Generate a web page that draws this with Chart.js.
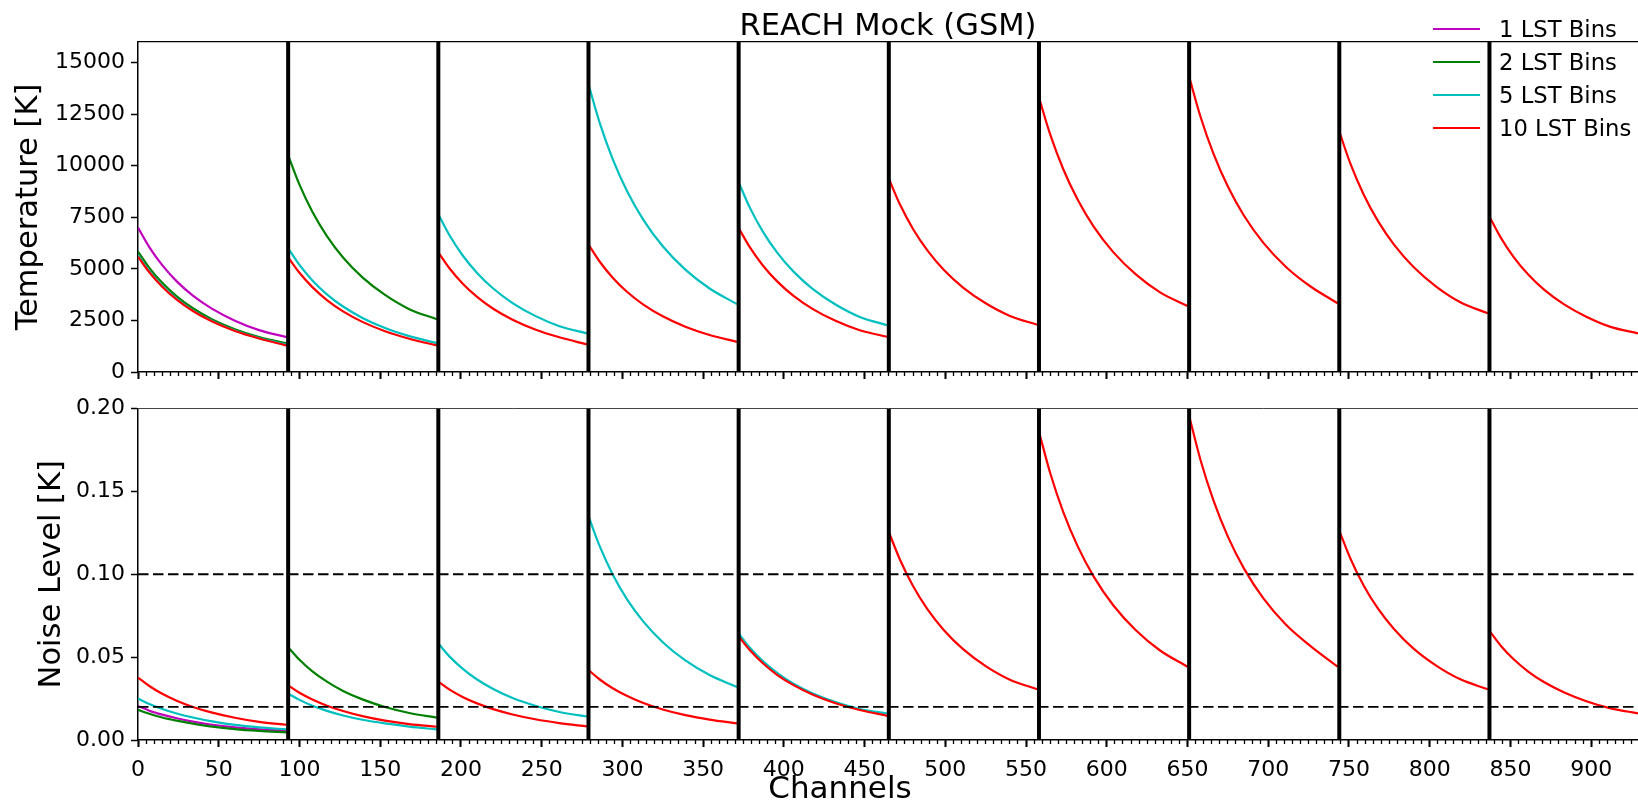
<!DOCTYPE html>
<html>
<head>
<meta charset="utf-8">
<script src="https://cdn.jsdelivr.net/npm/chart.js@4.4.0/dist/chart.umd.min.js"></script>
<style>
html, body { margin: 0; padding: 0; background: #fff; overflow: hidden; width: 1638px; height: 809px; }
#wrap { position: relative; width: 1638px; height: 809px; }
canvas { position: absolute; left: 0; }
#cTop { top: 0; }
#cBot { top: 380px; }
.leg { position: absolute; left: 1433px; height: 30px; width: 205px; font-family: 'DejaVu Sans', sans-serif; font-size: 22.7px; color: #000; white-space: nowrap; }
.leg i { position: absolute; left: 0; top: 14px; width: 47px; height: 0; border-top: 2.2px solid #000; }
.leg span { position: absolute; left: 66px; top: 0; line-height: 30px; }
#xlabel { position: absolute; left: 740px; width: 200px; top: 768.5px; height: 36px; line-height: 36px; text-align: center;
          font-family: 'DejaVu Sans', sans-serif; font-size: 31px; color: #000; white-space: nowrap; }
</style>
</head>
<body>
<div id="wrap">
  <canvas id="cTop" width="1638" height="392"></canvas>
  <canvas id="cBot" width="1638" height="429"></canvas>
  <div id="legend"></div>
  <div id="xlabel"></div>
</div>
<script>
// ---------------- data ----------------
const seriesLabels = ['1 LST Bins', '2 LST Bins', '5 LST Bins', '10 LST Bins'];
const titleText = 'REACH Mock (GSM)';
const xLabelText = 'Channels';
const yLabelTop = 'Temperature [K]';
const yLabelBottom = 'Noise Level [K]';

// channel positions of the sampled points (9 per 93-channel segment)
const channels = [
  0, 7, 15, 24, 34, 46, 60, 75, 92,
  93, 100, 108, 117, 127, 139, 153, 168, 185,
  186, 193, 201, 210, 220, 232, 246, 261, 278,
  279, 286, 294, 303, 313, 325, 339, 354, 371,
  372, 379, 387, 396, 406, 418, 432, 447, 464,
  465, 472, 480, 489, 499, 511, 525, 540, 557,
  558, 565, 573, 582, 592, 604, 618, 633, 650,
  651, 658, 666, 675, 685, 697, 711, 726, 743,
  744, 751, 759, 768, 778, 790, 804, 819, 836,
  837, 844, 852, 861, 871, 883, 897, 912, 929
];
const pointsPerSegment = 9;
const segmentBoundaries = [93, 186, 279, 372, 465, 558, 651, 744, 837];
const noiseThresholds = [0.1, 0.02];

// Temperature [K]
const tempLst1 = [7000, 6055, 5180, 4394, 3703, 3059, 2490, 2032, 1690];
const tempLst2 = [5840, 5052, 4322, 3666, 3089, 2552, 2077, 1695, 1390,
                  10500, 9083, 7770, 6591, 5555, 4589, 3735, 3048, 2560];
const tempLst5 = [5650, 4887, 4181, 3547, 2989, 2469, 2010, 1640, 1330,
                  6000, 5190, 4440, 3766, 3174, 2622, 2134, 1742, 1400,
                  7650, 6617, 5661, 4802, 4047, 3343, 2721, 2221, 1870,
                  13950, 12067, 10323, 8756, 7380, 6096, 4962, 4050, 3290,
                  9200, 7958, 6808, 5775, 4867, 4020, 3272, 2671, 2270];
const tempLst10 = [5590, 4835, 4137, 3509, 2957, 2443, 1988, 1623, 1280,
                   5560, 4809, 4114, 3490, 2941, 2430, 1978, 1614, 1290,
                   5800, 5017, 4292, 3641, 3068, 2535, 2063, 1684, 1340,
                   6180, 5346, 4573, 3879, 3269, 2701, 2198, 1794, 1460,
                   6980, 6038, 5165, 4381, 3692, 3050, 2483, 2026, 1710,
                   9370, 8105, 6934, 5882, 4957, 4095, 3333, 2720, 2290,
                   13300, 11505, 9842, 8348, 7036, 5812, 4731, 3861, 3200,
                   14320, 12387, 10597, 8989, 7575, 6258, 5094, 4157, 3330,
                   11650, 10077, 8621, 7313, 6163, 5091, 4144, 3382, 2845,
                   7530, 6513, 5572, 4727, 3983, 3291, 2678, 2186, 1870];

// Noise level [K]
const noiseLst1 = [0.0205, 0.0177, 0.0153, 0.0131, 0.0111, 0.0092, 0.0076, 0.0064, 0.0055];
const noiseLst2 = [0.0182, 0.0158, 0.0136, 0.0117, 0.0099, 0.0081, 0.0066, 0.0055, 0.0046,
                   0.0560, 0.0484, 0.0414, 0.0352, 0.0296, 0.0245, 0.0199, 0.0163, 0.0135];
const noiseLst5 = [0.0250, 0.0217, 0.0187, 0.0160, 0.0136, 0.0112, 0.0091, 0.0076, 0.0064,
                   0.0280, 0.0242, 0.0207, 0.0176, 0.0148, 0.0122, 0.0100, 0.0081, 0.0064,
                   0.0582, 0.0503, 0.0431, 0.0365, 0.0308, 0.0254, 0.0207, 0.0169, 0.0142,
                   0.1350, 0.1168, 0.0999, 0.0847, 0.0714, 0.0590, 0.0480, 0.0392, 0.0320,
                   0.0643, 0.0556, 0.0476, 0.0404, 0.0340, 0.0281, 0.0229, 0.0187, 0.0160];
const noiseLst10 = [0.0377, 0.0326, 0.0279, 0.0237, 0.0199, 0.0165, 0.0134, 0.0109, 0.0092,
                    0.0330, 0.0285, 0.0244, 0.0207, 0.0175, 0.0144, 0.0117, 0.0096, 0.0080,
                    0.0352, 0.0304, 0.0260, 0.0221, 0.0186, 0.0154, 0.0125, 0.0102, 0.0082,
                    0.0422, 0.0365, 0.0312, 0.0265, 0.0223, 0.0184, 0.0150, 0.0123, 0.0100,
                    0.0625, 0.0541, 0.0463, 0.0392, 0.0331, 0.0273, 0.0222, 0.0181, 0.0146,
                    0.1255, 0.1086, 0.0929, 0.0788, 0.0664, 0.0548, 0.0446, 0.0364, 0.0306,
                    0.1860, 0.1609, 0.1376, 0.1168, 0.0984, 0.0813, 0.0662, 0.0540, 0.0442,
                    0.1955, 0.1691, 0.1447, 0.1227, 0.1034, 0.0854, 0.0695, 0.0568, 0.0442,
                    0.1262, 0.1092, 0.0934, 0.0792, 0.0668, 0.0551, 0.0449, 0.0366, 0.0306,
                    0.0658, 0.0569, 0.0487, 0.0413, 0.0348, 0.0288, 0.0234, 0.0191, 0.0161];

// axes
const xRange = [0, 929];
const tempRange = [0, 16000];
const noiseRange = [0, 0.2];
const xTicks = [0, 50, 100, 150, 200, 250, 300, 350, 400, 450, 500, 550, 600, 650, 700, 750, 800, 850, 900];
const xMinorStep = 5;
const tempTicks = [0, 2500, 5000, 7500, 10000, 12500, 15000];
const noiseTicks = [0.00, 0.05, 0.10, 0.15, 0.20];

// ---------------- style ----------------
const COLORS = ['#bf00bf', '#008000', '#00bfbf', '#ff0000'];
const FONT = "'DejaVu Sans', sans-serif";
Chart.defaults.font.family = FONT;
Chart.defaults.color = '#000';

// legend and x label (HTML text)
const legendEl = document.getElementById('legend');
const legendCenters = [28.5, 61.8, 95.1, 128.4];
seriesLabels.forEach((lab, i) => {
  const d = document.createElement('div');
  d.className = 'leg';
  d.style.top = (legendCenters[i] - 15) + 'px';
  const ln = document.createElement('i');
  ln.style.borderTopColor = COLORS[i];
  const sp = document.createElement('span');
  sp.textContent = lab;
  d.appendChild(ln); d.appendChild(sp);
  legendEl.appendChild(d);
});
document.getElementById('xlabel').textContent = xLabelText;

function segPoints(values) {
  const pts = [];
  values.forEach((v, i) => {
    pts.push({ x: channels[i], y: v });
    if (i % pointsPerSegment === pointsPerSegment - 1) pts.push({ x: channels[i] + 0.5, y: null });
  });
  return pts;
}
function curve(label, values, color) {
  return { label, data: segPoints(values), borderColor: color, backgroundColor: color,
           borderWidth: 2.2, pointRadius: 0, fill: false, cubicInterpolationMode: 'monotone' };
}
function vlines(yTop) {
  const pts = [];
  segmentBoundaries.forEach(b => { pts.push({ x: b, y: 0 }, { x: b, y: yTop }, { x: b, y: null }); });
  return { label: 'boundaries', data: pts, borderColor: '#000', borderWidth: 4, pointRadius: 0, fill: false };
}
function hline(v) {
  return { label: 'thr' + v, data: [{ x: xRange[0], y: v }, { x: xRange[1], y: v }],
           borderColor: '#000', borderWidth: 1.8, borderDash: [10.5, 4.5], pointRadius: 0, fill: false };
}
const setTicks = list => (s => { s.ticks = list.map(v => ({ value: v })); });

function xAxes(showLabels, axisHeight, topColor, topWidth) {
  return {
    x: {
      type: 'linear', position: 'bottom', weight: 1, min: xRange[0], max: xRange[1],
      afterBuildTicks: setTicks(xTicks),
      ticks: { display: showLabels, autoSkip: false, maxRotation: 0, font: { size: 22 }, padding: 10,
               color: '#000', callback: v => String(v) },
      grid: { drawOnChartArea: false, drawTicks: true, tickLength: 7, tickWidth: 2, tickColor: '#000' },
      border: { display: true, color: '#000', width: 1.5 },
      title: { display: false },
      afterFit: s => { s.height = axisHeight; s.paddingLeft = 0; s.paddingRight = 0; }
    },
    xMinor: {
      type: 'linear', position: 'bottom', weight: 0, min: xRange[0], max: xRange[1],
      ticks: { display: false, stepSize: xMinorStep, includeBounds: false, autoSkip: false },
      grid: { drawOnChartArea: false, drawTicks: true, tickLength: 4, tickWidth: 1.3, tickColor: '#000' },
      border: { display: false },
      afterFit: s => { s.height = 0; s.paddingLeft = 0; s.paddingRight = 0; }
    },
    xTop: {
      type: 'linear', position: 'top', min: xRange[0], max: xRange[1],
      ticks: { display: false }, grid: { display: false },
      border: { display: true, color: topColor, width: topWidth },
      afterFit: s => { s.height = 0; s.paddingLeft = 0; s.paddingRight = 0; }
    }
  };
}
function yAxis(range, tickList, label, titlePad, fmt) {
  return {
    type: 'linear', position: 'left', min: range[0], max: range[1],
    afterBuildTicks: setTicks(tickList),
    ticks: { font: { size: 22 }, padding: 6, color: '#000', callback: fmt },
    grid: { drawOnChartArea: false, drawTicks: true, tickLength: 7, tickWidth: 1.5, tickColor: '#000' },
    border: { display: true, color: '#000', width: 1.5 },
    title: { display: true, text: label, font: { size: 30.5 }, color: '#000', padding: { top: titlePad, bottom: 0 } },
    afterFit: s => { s.width = 138; s.paddingTop = 0; s.paddingBottom = 0; }
  };
}

const common = {
  responsive: false, animation: false, devicePixelRatio: 1,
  events: [],
  elements: { line: { borderCapStyle: 'butt' } }
};

new Chart(document.getElementById('cTop'), {
  type: 'line',
  data: { datasets: [
    vlines(tempRange[1]),
    curve(seriesLabels[3], tempLst10, COLORS[3]),
    curve(seriesLabels[2], tempLst5, COLORS[2]),
    curve(seriesLabels[1], tempLst2, COLORS[1]),
    curve(seriesLabels[0], tempLst1, COLORS[0])
  ] },
  options: Object.assign({}, common, {
    layout: { padding: { top: 0, left: 0, right: 0, bottom: 0 } },
    plugins: {
      legend: { display: false }, tooltip: { enabled: false },
      title: { display: true, text: titleText, fullSize: false, color: '#000',
               font: { size: 30.5, weight: 'normal', lineHeight: 1.0 }, padding: { top: 11.5, bottom: 0 } }
    },
    scales: Object.assign({ y: yAxis(tempRange, tempTicks, yLabelTop, 10.5, v => String(v)) },
                          xAxes(false, 20, '#000', 1.2))
  })
});

new Chart(document.getElementById('cBot'), {
  type: 'line',
  data: { datasets: [
    vlines(noiseRange[1]),
    hline(noiseThresholds[0]),
    hline(noiseThresholds[1]),
    curve(seriesLabels[3], noiseLst10, COLORS[3]),
    curve(seriesLabels[2], noiseLst5, COLORS[2]),
    curve(seriesLabels[1], noiseLst2, COLORS[1]),
    curve(seriesLabels[0], noiseLst1, COLORS[0])
  ] },
  options: Object.assign({}, common, {
    layout: { padding: { top: 28.5, left: 0, right: 0, bottom: 0 } },
    plugins: { legend: { display: false }, tooltip: { enabled: false }, title: { display: false } },
    scales: Object.assign({ y: yAxis(noiseRange, noiseTicks, yLabelBottom, 33.5, v => Number(v).toFixed(2)) },
                          xAxes(true, 69, '#444', 1))
  })
});
</script>
</body>
</html>
